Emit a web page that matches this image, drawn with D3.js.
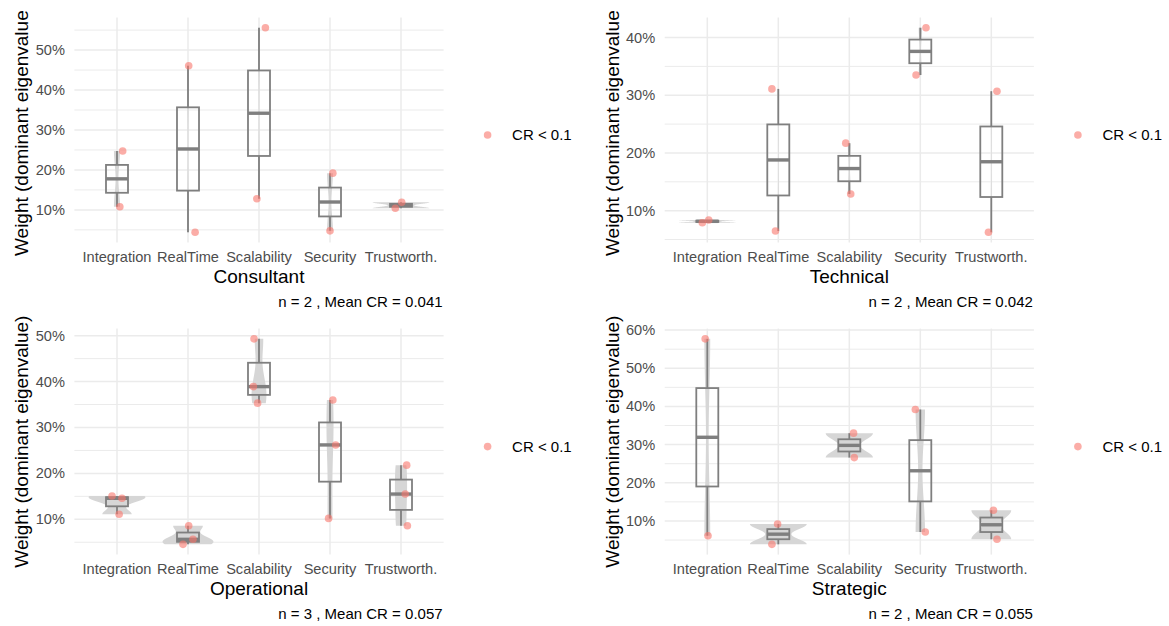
<!DOCTYPE html>
<html><head><meta charset="utf-8">
<script src="https://cdn.jsdelivr.net/npm/d3@7"></script>
<style>
body{margin:0;background:#fff}
svg{display:block}
text{font-family:"Liberation Sans",Arial,Helvetica,sans-serif}
</style>
</head><body>
<svg id="chart" width="1169" height="626"></svg>
<script>
// ---------------- data ----------------
const categories = ["Integration", "RealTime", "Scalability", "Security", "Trustworth."];
const groupNames = ["Consultant", "Technical", "Operational", "Strategic"];
const respondents = [2, 2, 3, 2];
const meanCR = ["0.041", "0.042", "0.057", "0.055"];
const legendLabel = "CR < 0.1";
const yAxisTitle = "Weight (dominant eigenvalue)";

// weights (percent), one list per criterion
const consultantWeights  = [[24.75, 10.8], [46.1, 4.4], [55.6, 12.8], [19.2, 4.75], [11.9, 10.4]];
const technicalWeights   = [[7.92, 8.39], [31.1, 6.48], [21.7, 12.9], [41.7, 33.5], [30.7, 6.26]];
const operationalWeights = [[15.08, 14.57, 11.09], [8.6, 4.55, 5.64], [49.3, 38.9, 35.3], [36.0, 26.2, 10.2], [21.8, 15.5, 8.6]];
const strategicWeights   = [[57.7, 6.14], [9.2, 3.88], [33.0, 26.6], [39.2, 7.1], [12.8, 5.2]];

// horizontal jitter (fraction of category step)
const consultantJitter  = [[0.08, 0.04], [0.01, 0.10], [0.09, -0.03], [0.04, 0.0], [0.01, -0.08]];
const technicalJitter   = [[-0.07, 0.02], [-0.09, -0.04], [-0.05, 0.02], [0.08, -0.06], [0.08, -0.04]];
const operationalJitter = [[-0.07, 0.07, 0.03], [0.01, -0.07, 0.07], [-0.07, -0.08, -0.02], [0.04, 0.08, -0.02], [0.08, 0.06, 0.09]];
const strategicJitter   = [[-0.03, 0.01], [-0.01, -0.09], [0.06, 0.07], [-0.07, 0.07], [0.03, 0.08]];

const yTicksConsultant  = [10, 20, 30, 40, 50];
const yTicksTechnical   = [10, 20, 30, 40];
const yTicksOperational = [10, 20, 30, 40, 50];
const yTicksStrategic   = [10, 20, 30, 40, 50, 60];

// ---------------- layout ----------------
const panels = [
  {weights: consultantWeights,  jitter: consultantJitter,  ticks: yTicksConsultant,  x0: 74.4,  x1: 443.6,  y0: 17.5,  y1: 242.5, clip: [11, 313]},
  {weights: technicalWeights,   jitter: technicalJitter,   ticks: yTicksTechnical,   x0: 664.7, x1: 1033.9, y0: 17.5,  y1: 242.5, clip: [11, 313]},
  {weights: operationalWeights, jitter: operationalJitter, ticks: yTicksOperational, x0: 74.4,  x1: 443.6,  y0: 328.6, y1: 554.6, clip: [313, 626]},
  {weights: strategicWeights,   jitter: strategicJitter,   ticks: yTicksStrategic,   x0: 664.7, x1: 1033.9, y0: 328.6, y1: 554.6, clip: [313, 626]}
];

const svg = d3.select("#chart");
const gridColor = "#ebebeb";
const boxColor = "#7f7f7f";
const pointColor = "#F8766D";
const violinFill = "#d6d6d6";

function bwNrd0(xs) {
  const s = [...xs].sort(d3.ascending);
  const sd = d3.deviation(s);
  const iqr = d3.quantileSorted(s, 0.75) - d3.quantileSorted(s, 0.25);
  let lo = Math.min(sd, iqr / 1.34);
  if (!lo) lo = sd || Math.abs(s[0]) || 1;
  return 0.9 * lo * Math.pow(s.length, -0.2);
}
function kde(xs, bw, y) {
  let sum = 0;
  for (const x of xs) { const u = (y - x) / bw; sum += Math.exp(-0.5 * u * u); }
  return sum / (xs.length * bw * Math.sqrt(2 * Math.PI));
}

panels.forEach((p, pi) => {
  const g = svg.append("g");
  const all = p.weights.flat();
  const mn = d3.min(all), mx = d3.max(all), span = mx - mn;
  const y = d3.scaleLinear().domain([mn - 0.05 * span, mx + 0.05 * span]).range([p.y1, p.y0]);
  const x = d3.scalePoint().domain(categories).range([p.x0, p.x1]).padding(0.6);
  const step = x.step();

  // minor grid
  const majors = p.ticks;
  const stepT = majors[1] - majors[0];
  const minors = [];
  for (let v = majors[0] - stepT / 2; v <= y.domain()[1]; v += stepT) {
    if (v >= y.domain()[0]) minors.push(v);
  }
  g.selectAll(".minor").data(minors).join("line")
    .attr("x1", p.x0).attr("x2", p.x1)
    .attr("y1", d => y(d)).attr("y2", d => y(d))
    .attr("stroke", gridColor).attr("stroke-width", 1);
  g.selectAll(".major").data(majors).join("line")
    .attr("x1", p.x0).attr("x2", p.x1)
    .attr("y1", d => y(d)).attr("y2", d => y(d))
    .attr("stroke", gridColor).attr("stroke-width", 1.5);
  g.selectAll(".vgrid").data(categories).join("line")
    .attr("x1", d => x(d)).attr("x2", d => x(d))
    .attr("y1", p.y0).attr("y2", p.y1)
    .attr("stroke", gridColor).attr("stroke-width", 1.5);

  // y tick labels
  g.selectAll(".ytl").data(majors).join("text")
    .attr("x", p.x0 - 9.5).attr("y", d => y(d) + 5)
    .attr("text-anchor", "end").attr("font-size", 14.6).attr("fill", "#4d4d4d")
    .text(d => d + "%");
  // x tick labels
  g.selectAll(".xtl").data(categories).join("text")
    .attr("x", d => x(d)).attr("y", p.y1 + 19.8)
    .attr("text-anchor", "middle").attr("font-size", 14.6).attr("fill", "#4d4d4d")
    .text(d => d);

  // violins
  const dens = p.weights.map(vals => {
    const bw = bwNrd0(vals);
    const lo = d3.min(vals), hi = d3.max(vals);
    const n = 512;
    return d3.range(n).map(i => {
      const v = lo + (hi - lo) * i / (n - 1);
      return {v, d: kde(vals, bw, v)};
    });
  });
  const maxD = d3.max(dens.flat(), d => d.d);
  const halfW = 0.8 * step / 2;
  dens.forEach((arr, ci) => {
    const cx = x(categories[ci]);
    const left = arr.map(o => [cx - o.d / maxD * halfW, y(o.v)]);
    const right = arr.map(o => [cx + o.d / maxD * halfW, y(o.v)]).reverse();
    g.append("path")
      .attr("d", d3.line()(left.concat(right)) + "Z")
      .attr("fill", violinFill).attr("stroke", "none");
  });

  // boxplots
  const bHalf = 0.31 * step / 2;
  p.weights.forEach((vals, ci) => {
    const s = [...vals].sort(d3.ascending);
    const q1 = d3.quantileSorted(s, 0.25), med = d3.quantileSorted(s, 0.5), q3 = d3.quantileSorted(s, 0.75);
    const iqr = q3 - q1;
    const wLo = d3.min(s.filter(v => v >= q1 - 1.5 * iqr));
    const wHi = d3.max(s.filter(v => v <= q3 + 1.5 * iqr));
    const cx = x(categories[ci]);
    g.append("line").attr("x1", cx).attr("x2", cx).attr("y1", y(q3)).attr("y2", y(wHi))
      .attr("stroke", boxColor).attr("stroke-width", 1.8);
    g.append("line").attr("x1", cx).attr("x2", cx).attr("y1", y(q1)).attr("y2", y(wLo))
      .attr("stroke", boxColor).attr("stroke-width", 1.8);
    g.append("rect").attr("x", cx - bHalf).attr("width", 2 * bHalf)
      .attr("y", y(q3)).attr("height", Math.max(0, y(q1) - y(q3)))
      .attr("fill", "none").attr("stroke", boxColor).attr("stroke-width", 1.8);
    g.append("line").attr("x1", cx - bHalf).attr("x2", cx + bHalf).attr("y1", y(med)).attr("y2", y(med))
      .attr("stroke", boxColor).attr("stroke-width", 3.4);
  });

  // points
  p.weights.forEach((vals, ci) => {
    const cx = x(categories[ci]);
    g.selectAll(null).data(vals.map((v, k) => ({v, j: p.jitter[ci][k]}))).join("circle")
      .attr("cx", d => cx + d.j * step).attr("cy", d => y(d.v)).attr("r", 3.8)
      .attr("fill", pointColor).attr("fill-opacity", 0.6);
  });

  // titles
  const cxMid = (p.x0 + p.x1) / 2, cyMid = (p.y0 + p.y1) / 2;
  g.append("text").attr("x", cxMid).attr("y", p.y1 + 40.8)
    .attr("text-anchor", "middle").attr("font-size", 19).attr("fill", "#000")
    .text(groupNames[pi]);
  g.append("text").attr("x", p.x1 - 1).attr("y", p.y1 + 64.5)
    .attr("text-anchor", "end").attr("font-size", 15).attr("fill", "#000")
    .text(`n = ${respondents[pi]} , Mean CR = ${meanCR[pi]}`);

  const clipId = "clip" + pi;
  svg.append("clipPath").attr("id", clipId).attr("clipPathUnits", "userSpaceOnUse")
    .append("rect")
    .attr("x", p.x0 - 80).attr("y", p.clip[0]).attr("width", 80).attr("height", p.clip[1] - p.clip[0]);
  g.append("g").attr("clip-path", `url(#${clipId})`)
    .append("text")
    .attr("transform", `translate(${p.x0 - 46},${cyMid}) rotate(-90)`)
    .attr("text-anchor", "middle").attr("font-size", 19).attr("fill", "#000")
    .text(yAxisTitle);

  // legend
  g.append("circle").attr("cx", p.x1 + 44).attr("cy", cyMid + 5).attr("r", 3.8)
    .attr("fill", pointColor).attr("fill-opacity", 0.6);
  g.append("text").attr("x", p.x1 + 68.5).attr("y", cyMid + 10.3)
    .attr("font-size", 15).attr("fill", "#000").text(legendLabel);
});
</script>
</body></html>
